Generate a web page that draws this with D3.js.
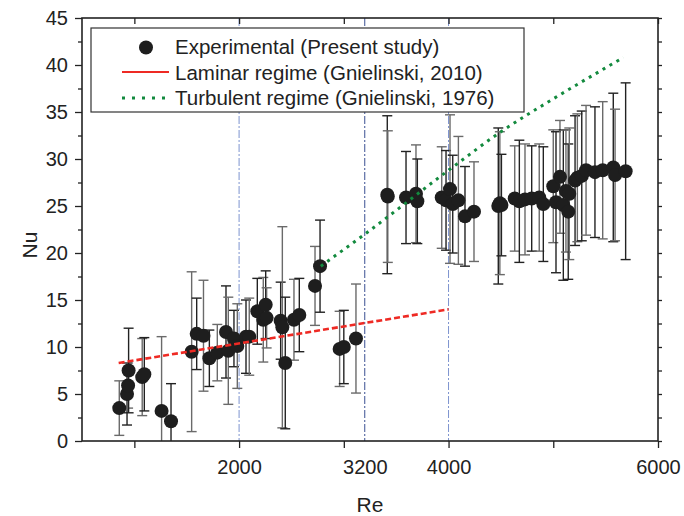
<!DOCTYPE html>
<html>
<head>
<meta charset="utf-8">
<script src="https://cdn.jsdelivr.net/npm/d3@7"></script>
<style>
  body { margin: 0; background: #fff; }
  text { font-family: "Liberation Sans", Arial, sans-serif; fill: #222; }
</style>
</head>
<body>
<div id="chart"></div>
<script>
// data
var re = [856, 930, 940, 945, 1075, 1095, 1260, 1350, 1547, 1595, 1660, 1716, 1792, 1875, 1897, 1951, 1983,
  2066, 2097, 2174, 2231, 2254, 2263, 2397, 2413, 2441, 2524, 2575, 2725, 2773, 2960, 3000, 3116,
  3415, 3420, 3594, 3689, 3702, 3935, 3976, 4014, 4040, 4094, 4157, 4243, 4475, 4490, 4505,
  4632, 4676, 4730, 4794, 4866, 4905, 5000, 5026, 5064, 5096, 5121, 5143, 5153, 5208, 5230,
  5272, 5313, 5398, 5472, 5573, 5590, 5691];
var nu = [3.5, 5.0, 5.9, 7.5, 6.8, 7.1, 3.2, 2.1, 9.5, 11.4, 11.2, 8.8, 9.4, 11.6, 9.6, 10.9, 10.1,
  11.1, 11.1, 13.8, 12.9, 14.5, 13.1, 12.8, 12.1, 8.3, 12.9, 13.4, 16.5, 18.6, 9.8, 10.0, 10.9,
  26.2, 26.0, 25.9, 26.3, 25.5, 25.9, 25.6, 26.8, 25.2, 25.6, 23.9, 24.4, 25.0, 25.3, 25.1,
  25.8, 25.5, 25.7, 25.8, 25.9, 25.2, 27.1, 25.4, 28.1, 25.1, 26.6, 24.4, 26.3, 27.7, 28.0,
  28.2, 28.8, 28.6, 28.8, 29.1, 28.3, 28.7];
var nuErr = [2.9, 3.3, 2.4, 4.5, 4.1, 3.9, 7.9, 4.0, 8.5, 3.8, 5.9, 3.0, 3.0, 4.9, 5.7, 3.0, 4.5,
  3.9, 4.1, 3.5, 4.5, 3.6, 3.2, 4.1, 10.7, 7.0, 4.3, 3.9, 4.2, 4.9, 4.0, 3.9, 5.8,
  8.4, 7.0, 4.9, 5.2, 4.5, 5.4, 5.3, 7.9, 5.2, 6.8, 5.3, 5.3, 8.3, 7.6, 5.4,
  5.6, 6.5, 5.9, 5.6, 5.7, 6.1, 6.0, 7.5, 6.0, 8.0, 6.5, 7.2, 7.0, 6.9, 6.8,
  6.9, 6.9, 6.95, 7.3, 7.9, 7.0, 9.4];

var lamRe = [850, 4000];
var lamNu = [8.3, 14.0];
var turbRe = [2780, 3200, 4000, 4500, 5000, 5500, 5670];
var turbNu = [18.6, 22.0, 28.8, 32.9, 36.4, 39.7, 40.8];

var refLines = [2000, 3200, 4000];
var xTicks = [1000, 2000, 3000, 4000, 5000, 6000];
var xLabels = [2000, 3200, 4000, 6000];
var yTicks = [0, 5, 10, 15, 20, 25, 30, 35, 40, 45];
var yMinor = [2.5, 7.5, 12.5, 17.5, 22.5, 27.5, 32.5, 37.5, 42.5];

var legendLabels = ["Experimental (Present study)", "Laminar regime (Gnielinski, 2010)", "Turbulent regime (Gnielinski, 1976)"];

var svgWidth = 684;
var svgHeight = 516;

var svg = d3.select("#chart")
  .append("svg")
  .attr("width", svgWidth)
  .attr("height", svgHeight);

var x = d3.scaleLinear().domain([500, 6000]).range([82, 658]);
var y = d3.scaleLinear().domain([0, 45]).range([441, 18]);

svg.append("clipPath").attr("id", "plot")
  .append("rect")
  .attr("x", 82).attr("y", 18)
  .attr("width", 576).attr("height", 423);

// reference lines
svg.append("g").selectAll("line")
  .data(refLines)
  .enter()
  .append("line")
  .attr("x1", d => x(d)).attr("x2", d => x(d))
  .attr("y1", y(45)).attr("y2", y(0))
  .attr("stroke", (d, i) => i === 1 ? "#3a4f92" : "#7d93cf")
  .attr("stroke-width", 1)
  .attr("stroke-dasharray", "8,2,2,2");

var pts = re.map((d, i) => ({re: d, nu: nu[i], err: nuErr[i]}));

// error bars
var bars = svg.append("g").attr("clip-path", "url(#plot)");
pts.forEach(function(d, i) {
  var col = i % 2 ? "#222" : "#6a6a6a";
  var g = bars.append("g").attr("stroke", col).attr("stroke-width", 1.4);
  g.append("line")
    .attr("x1", x(d.re)).attr("x2", x(d.re))
    .attr("y1", y(d.nu + d.err)).attr("y2", y(d.nu - d.err));
  [d.nu + d.err, d.nu - d.err].forEach(function(v) {
    g.append("line")
      .attr("x1", x(d.re) - 5).attr("x2", x(d.re) + 5)
      .attr("y1", y(v)).attr("y2", y(v));
  });
});

svg.append("g").selectAll("circle")
  .data(pts)
  .enter()
  .append("circle")
  .attr("cx", d => x(d.re))
  .attr("cy", d => y(d.nu))
  .attr("r", 7)
  .attr("fill", "#1e1e1e");

var line = d3.line().x(d => x(d[0])).y(d => y(d[1]));

svg.append("path")
  .datum(lamRe.map((d, i) => [d, lamNu[i]]))
  .attr("d", line)
  .attr("fill", "none")
  .attr("stroke", "#ee2a24")
  .attr("stroke-width", 2.6)
  .attr("stroke-dasharray", "6,3");

svg.append("path")
  .datum(turbRe.map((d, i) => [d, turbNu[i]]))
  .attr("d", line.curve(d3.curveMonotoneX))
  .attr("fill", "none")
  .attr("stroke", "#138a3e")
  .attr("stroke-width", 3)
  .attr("stroke-dasharray", "3,5");

// axes
var bottomTicks = d3.axisBottom(x).tickValues(xTicks).tickSize(7).tickFormat("");
svg.append("g").attr("transform", "translate(0,441)").call(bottomTicks);

var bottomLabels = d3.axisBottom(x).tickValues(xLabels).tickSize(0).tickPadding(19).tickFormat(d3.format("d"));
svg.append("g").attr("transform", "translate(0,441)").call(bottomLabels)
  .call(g => g.select(".domain").remove());

var topTicks = d3.axisBottom(x).tickValues(xTicks).tickSize(6).tickFormat("");
svg.append("g").attr("transform", "translate(0,18)").call(topTicks);

var leftAxis = d3.axisLeft(y).tickValues(yTicks).tickSize(7).tickPadding(7);
svg.append("g").attr("transform", "translate(82,0)").call(leftAxis);
svg.append("g").attr("transform", "translate(82,0)")
  .call(d3.axisLeft(y).tickValues(yMinor).tickSize(4).tickFormat(""));

svg.append("g").attr("transform", "translate(658,0)")
  .call(d3.axisRight(y).tickValues(yTicks.concat(yMinor)).tickSize(4).tickFormat(""));

svg.selectAll(".tick text").style("font-size", "20px").style("font-family", "Liberation Sans, Arial, sans-serif").attr("fill", "#222");
svg.selectAll(".tick line").attr("stroke", "#222").attr("stroke-width", 1.3);
svg.selectAll(".domain").attr("stroke", "none");

svg.append("rect")
  .attr("x", 82).attr("y", 18)
  .attr("width", 576).attr("height", 423)
  .attr("fill", "none")
  .attr("stroke", "#222")
  .attr("stroke-width", 1.6);

svg.append("text")
  .attr("x", 370).attr("y", 512)
  .attr("text-anchor", "middle")
  .style("font-size", "21px")
  .text("Re");

svg.append("text")
  .attr("transform", "translate(37,245) rotate(-90)")
  .attr("text-anchor", "middle")
  .style("font-size", "21px")
  .text("Nu");

// legend
var legend = svg.append("g");
legend.append("rect")
  .attr("x", 91).attr("y", 28)
  .attr("width", 433).attr("height", 84)
  .attr("fill", "#fff")
  .attr("stroke", "#333")
  .attr("stroke-width", 1.2);

legend.append("circle").attr("cx", 146).attr("cy", 47.5).attr("r", 7).attr("fill", "#1e1e1e");
legend.append("line").attr("x1", 122).attr("x2", 169).attr("y1", 72).attr("y2", 72)
  .attr("stroke", "#ee2a24").attr("stroke-width", 2);
legend.append("line").attr("x1", 122).attr("x2", 169).attr("y1", 98).attr("y2", 98)
  .attr("stroke", "#138a3e").attr("stroke-width", 3).attr("stroke-dasharray", "3,7");

legend.selectAll("text.leg")
  .data(legendLabels)
  .enter()
  .append("text")
  .classed("leg", true)
  .attr("x", 175)
  .attr("y", (d, i) => 54 + i * 25.5)
  .style("font-size", "20.5px")
  .text(d => d);
</script>
</body>
</html>
